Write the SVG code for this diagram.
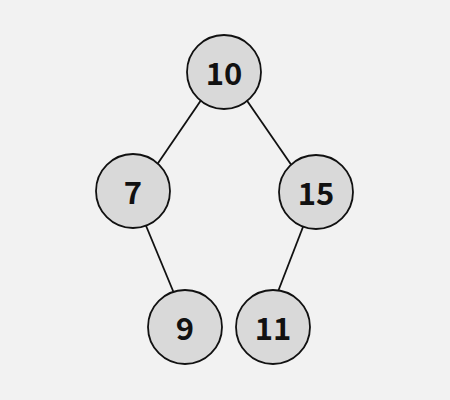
<svg xmlns="http://www.w3.org/2000/svg" width="450" height="400" viewBox="0 0 450 400">
<style>
.n circle{fill:#d9d9d9;stroke:#111;stroke-width:1.8}
.n text{font-family:"Noto Sans CJK SC",sans-serif;font-weight:bold;font-size:31px;fill:#111;text-anchor:middle;dominant-baseline:central}
.e line{stroke:#111;stroke-width:1.8}
</style>
<rect width="450" height="400" fill="#f2f2f2"/>
<g id="edges" class="e">
<line x1="220.3" y1="72" x2="139" y2="191"/>
<line x1="227.2" y1="72" x2="310" y2="192"/>
<line x1="131.6" y1="191" x2="188" y2="327"/>
<line x1="316.5" y1="192" x2="264.3" y2="327"/>
</g>
<g id="n10" class="n"><circle cx="224" cy="72" r="37"/><text x="224" y="71">10</text></g>
<g id="n7" class="n"><circle cx="133" cy="191" r="37"/><text x="133" y="190">7</text></g>
<g id="n15" class="n"><circle cx="316" cy="192" r="37"/><text x="316" y="191">15</text></g>
<g id="n9" class="n"><circle cx="185" cy="327" r="37"/><text x="185" y="326">9</text></g>
<g id="n11" class="n"><circle cx="273" cy="327" r="37"/><text x="273" y="326">11</text></g>
</svg>
